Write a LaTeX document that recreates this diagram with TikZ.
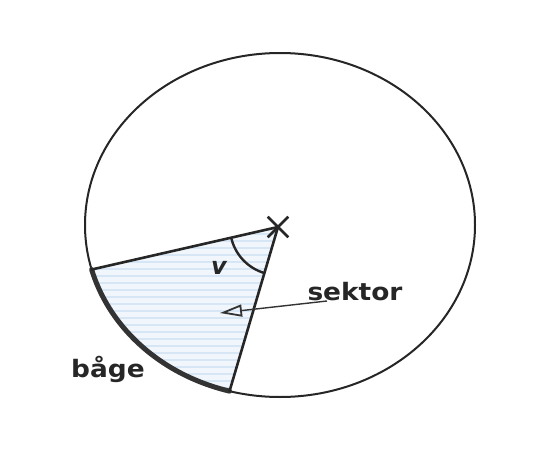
\documentclass[tikz,border=0pt]{standalone}
\usepackage{fontspec}
\newfontfamily\handfont{DejaVu Sans}
\usetikzlibrary{arrows.meta,shapes.misc}
\definecolor{fillblue}{RGB}{240,246,251}
\definecolor{strokeblue}{RGB}{214,230,244}
\tikzset{
  outline/.style={line width=2pt, black!85},
  radius line/.style={line width=2.6pt, black!85},
  arcline/.style={line width=5pt, black!80},
  label/.style={font=\handfont\bfseries\fontsize{24}{28}\selectfont, text=black!85, inner sep=0pt},
  pointer/.style={line width=1.4pt, black!80, -{Triangle[open, length=22pt, width=12pt, line width=1.8pt]}},
}
\begin{document}
\begin{tikzpicture}[x=1pt, y=-1pt]
\useasboundingbox (0,0) rectangle (538,460);
% geometry
\coordinate (C) at (280,225);
\coordinate (O) at (278,227);
\coordinate (A) at ({280+195*cos(165)},{225+172*sin(165)});
\coordinate (B) at ({280+195*cos(105)},{225+172*sin(105)});
% sector fill
\fill[fillblue] (O) -- (A) -- plot[domain=165:105, samples=40] ({280+195*cos(\x)},{225+172*sin(\x)}) -- cycle;
\begin{scope}
  \clip (O) -- (A) -- plot[domain=165:105, samples=40] ({280+195*cos(\x)},{225+172*sin(\x)}) -- cycle;
  \foreach \yy in {234,241,...,395} \draw[strokeblue, line width=1.2pt] (80,\yy) -- (300,\yy);
\end{scope}
% circle
\draw[outline] (C) ellipse [x radius=195, y radius=172];
% arc (bage)
\draw[arcline, line cap=round] plot[domain=165:105, samples=40] ({280+195*cos(\x)},{225+172*sin(\x)});
% radii
\draw[radius line, line cap=round] (A) -- (O) -- (B);
% angle arc
\draw[line width=2.4pt, black!85] plot[domain=107:166, samples=30] ({278+48*cos(\x)},{227+48*sin(\x)});
% centre cross
\node[cross out, draw, line width=2.6pt, black!85, minimum size=18pt, inner sep=0pt] (X) at (O) {};
% labels
\node[label, font=\handfont\bfseries\itshape\fontsize{24}{28}\selectfont, inner sep=0pt] (v) at (219,268) {v};
\node[label, anchor=base] (sektor) at (355,300) {\scalebox{1.1}[1]{sektor}};
\node[label, anchor=base] (bage) at (108,377) {\scalebox{1.1}[1]{båge}};
% pointer
\coordinate (ps) at (327,301);
\coordinate (pt) at (220,313);
\draw[pointer] (ps) -- (pt);
\end{tikzpicture}
\end{document}
